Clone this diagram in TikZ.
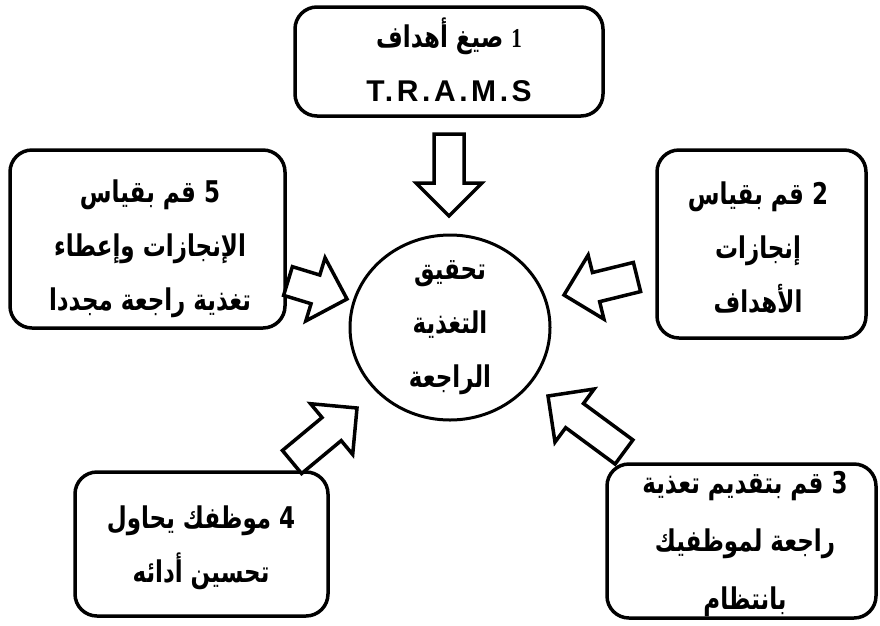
\documentclass[tikz,border=0pt]{standalone}
\usepackage{fontspec}
\usetikzlibrary{calc,shapes.geometric}
\TeXXeTstate=1
\newfontfamily\arabicfont[Script=Arabic]{DejaVu Sans}
\newfontfamily\latinbold[LetterSpace=12]{Liberation Sans}
\newfontfamily\serifnum{Liberation Serif}
% one right-to-left line of bold Arabic, set a little taller than the font's own shape
\newcommand\arline[1]{\scalebox{1}[1.3]{\bfseries\beginR #1\endR}}
% geometry of the hollow block arrows
\newcommand\shafthw{15pt}
\newcommand\headhw{33pt}
\newcommand\headlen{33pt}
% hollow block arrow from a tail coordinate to a tip coordinate
\newcommand\blockarrow[2]{%
  \coordinate (ba-s) at ($(#2)!\headlen!(#1)$);
  \draw[hollowarrow]
    ($(#1)!\shafthw!90:(#2)$) -- ($(ba-s)!\shafthw!90:(#2)$) --
    ($(ba-s)!\headhw!90:(#2)$) -- (#2) --
    ($(ba-s)!\headhw!-90:(#2)$) -- ($(ba-s)!\shafthw!-90:(#2)$) --
    ($(#1)!\shafthw!-90:(#2)$) -- cycle;
}
\tikzset{
  panel/.style={draw, line width=3.5pt, rounded corners=22pt, inner sep=0pt, fill=white},
  label/.style={align=center, inner sep=0pt,
    font=\arabicfont\fontsize{23}{54}\selectfont},
  hollowarrow/.style={draw, line width=3.5pt, fill=white, line join=miter, miter limit=10},
  hub/.style={draw, ellipse, line width=3pt, inner sep=0pt, minimum width=200pt, minimum height=185pt}
}
\begin{document}
\begin{tikzpicture}[x=1pt, y=-1pt]
\useasboundingbox[fill=white] (0,0) rectangle (880,625);

% boxes
\node[panel, minimum width=308pt, minimum height=109pt] (b1) at (449,61.5) {};
\node[panel, minimum width=275pt, minimum height=178pt] (b5) at (147.5,239) {};
\node[panel, minimum width=209pt, minimum height=188pt] (b2) at (761.5,244) {};
\node[panel, minimum width=253pt, minimum height=144pt] (b4) at (201.5,544) {};
\node[panel, minimum width=269pt, minimum height=154pt] (b3) at (741.5,541) {};
\node[hub] (hub) at (450,327.5) {};

% texts
\node[label] (l1) at (449,60) {\arline{{\serifnum\bfseries\fontsize{21}{54}\selectfont 1} صيغ أهداف}\\{\latinbold\bfseries\fontsize{30}{54}\selectfont T.R.A.M.S}};
\node[label] (l5) at (150,249) {\arline{5 قم بقياس}\\\arline{الإنجازات وإعطاء}\\\arline{تغذية راجعة مجددا}};
\node[label] (l2) at (758,248) {\arline{2 قم بقياس}\\\arline{إنجازات}\\\arline{الأهداف}};
\node[label] (l4) at (201,548) {\arline{4 موظفك يحاول}\\\arline{تحسين أدائه}};
\node[label, font=\arabicfont\fontsize{23}{58}\selectfont] (l3) at (745,544) {\arline{3 قم بتقديم تعذية}\\\arline{راجعة لموظفيك}\\\arline{بانتظام}};
\node[label] (lh) at (450,328) {\arline{تحقيق}\\\arline{التغذية}\\\arline{الراجعة}};

% arrow ends
\coordinate (a1t) at (449,134);  \coordinate (a1h) at (449,216);
\coordinate (a5t) at (288,281);  \coordinate (a5h) at (347,299);
\coordinate (a2t) at (637,277);  \coordinate (a2h) at (564,295);
\coordinate (a4t) at (292,462);  \coordinate (a4h) at (357,408);
\coordinate (a3t) at (624,452);  \coordinate (a3h) at (548,396);

\blockarrow{a1t}{a1h}
\blockarrow{a5t}{a5h}
\blockarrow{a2t}{a2h}
\blockarrow{a4t}{a4h}
\blockarrow{a3t}{a3h}
\end{tikzpicture}
\end{document}
